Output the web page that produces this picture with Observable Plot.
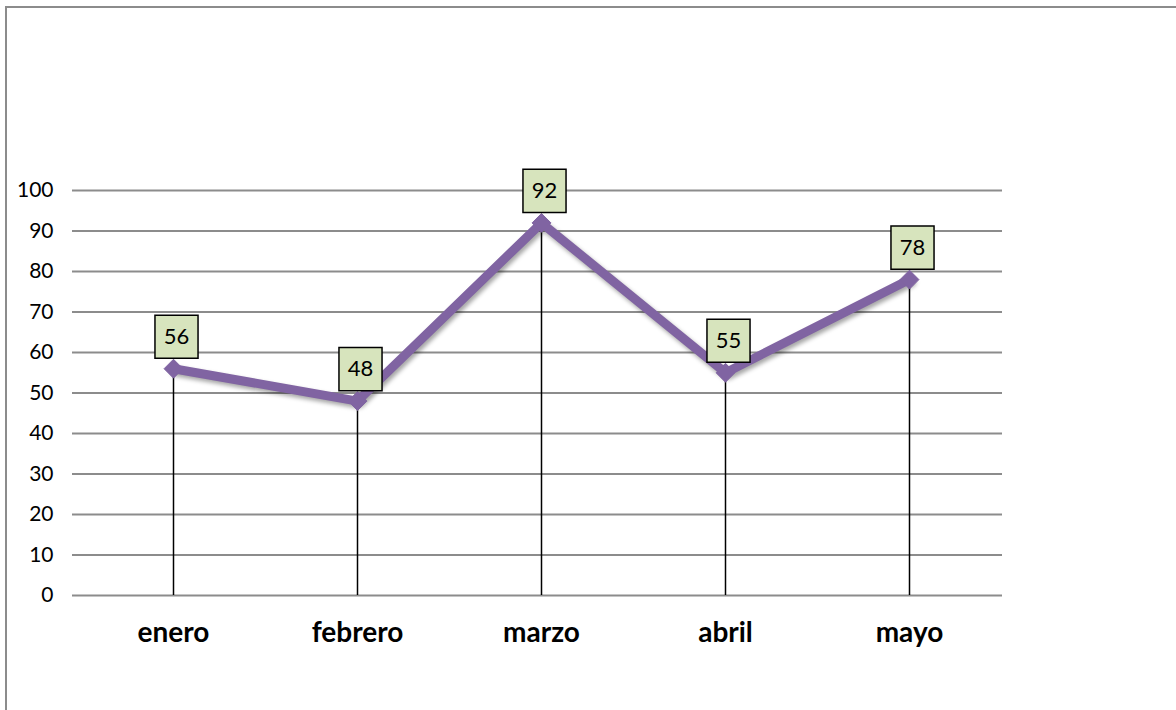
<!DOCTYPE html>
<html>
<head>
<meta charset="utf-8">
<script src="https://cdn.jsdelivr.net/npm/d3@7"></script>
<script src="https://cdn.jsdelivr.net/npm/@observablehq/plot@0.6"></script>
<style>
  html, body { margin: 0; padding: 0; background: #fff; width: 1176px; height: 710px; overflow: hidden; }
  #frame { position: absolute; left: 5px; top: 6px; width: 1300px; height: 800px; border: 2px solid #8c8c8c; box-sizing: border-box; }
  #chart { position: absolute; left: 0; top: 0; }
  #chart svg { font-family: Lato, "Open Sans", sans-serif; }
  #chart g[aria-label="line"] { filter: drop-shadow(2px 3px 2px rgba(0,0,0,0.35)); }
</style>
</head>
<body>
<div id="frame"></div>
<div id="chart"></div>
<script>
const months = ["enero", "febrero", "marzo", "abril", "mayo"];
const values = [56, 48, 92, 55, 78];
const yTicks = [0, 10, 20, 30, 40, 50, 60, 70, 80, 90, 100];

const data = months.map((m, i) => ({month: m, value: values[i]}));

const chart = Plot.plot({
  width: 1176,
  height: 710,
  marginLeft: 80,
  marginRight: 174,
  marginTop: 190,
  marginBottom: 115,
  style: {background: "transparent", color: "black"},
  x: {type: "point", domain: months, padding: 0.5, label: null},
  y: {domain: [0, 100], label: null},
  marks: [
    Plot.ruleY(yTicks, {y: d => d, stroke: "#8c8c8c", strokeWidth: 2, insetLeft: -8}),
    Plot.axisY({ticks: yTicks, tickSize: 0, tickPadding: 27, fontSize: 21, line: true, stroke: "#8c8c8c", strokeWidth: 2, label: null}),
    Plot.axisX({tickSize: 0, tickPadding: 27, fontSize: 28, fontWeight: "bold", label: null}),
    Plot.ruleX(data, {x: "month", y1: 0, y2: "value", stroke: "black", strokeWidth: 1.5}),
    Plot.line(data, {x: "month", y: "value", stroke: "#8064A2", strokeWidth: 9, strokeLinejoin: "miter"}),
    Plot.dot(data, {x: "month", y: "value", symbol: "diamond2", r: 8.5, fill: "#8064A2", stroke: "#8064A2", strokeWidth: 1}),
    Plot.dot(data, {x: "month", y: "value", symbol: "square", r: 24.3, dx: 3, dy: -32, fill: "#D7E4BD", stroke: "black", strokeWidth: 1.5}),
    Plot.text(data, {x: "month", y: "value", text: d => String(d.value), dx: 3, dy: -32, fontSize: 22, fill: "black"})
  ]
});
document.getElementById("chart").appendChild(chart);
</script>
</body>
</html>
